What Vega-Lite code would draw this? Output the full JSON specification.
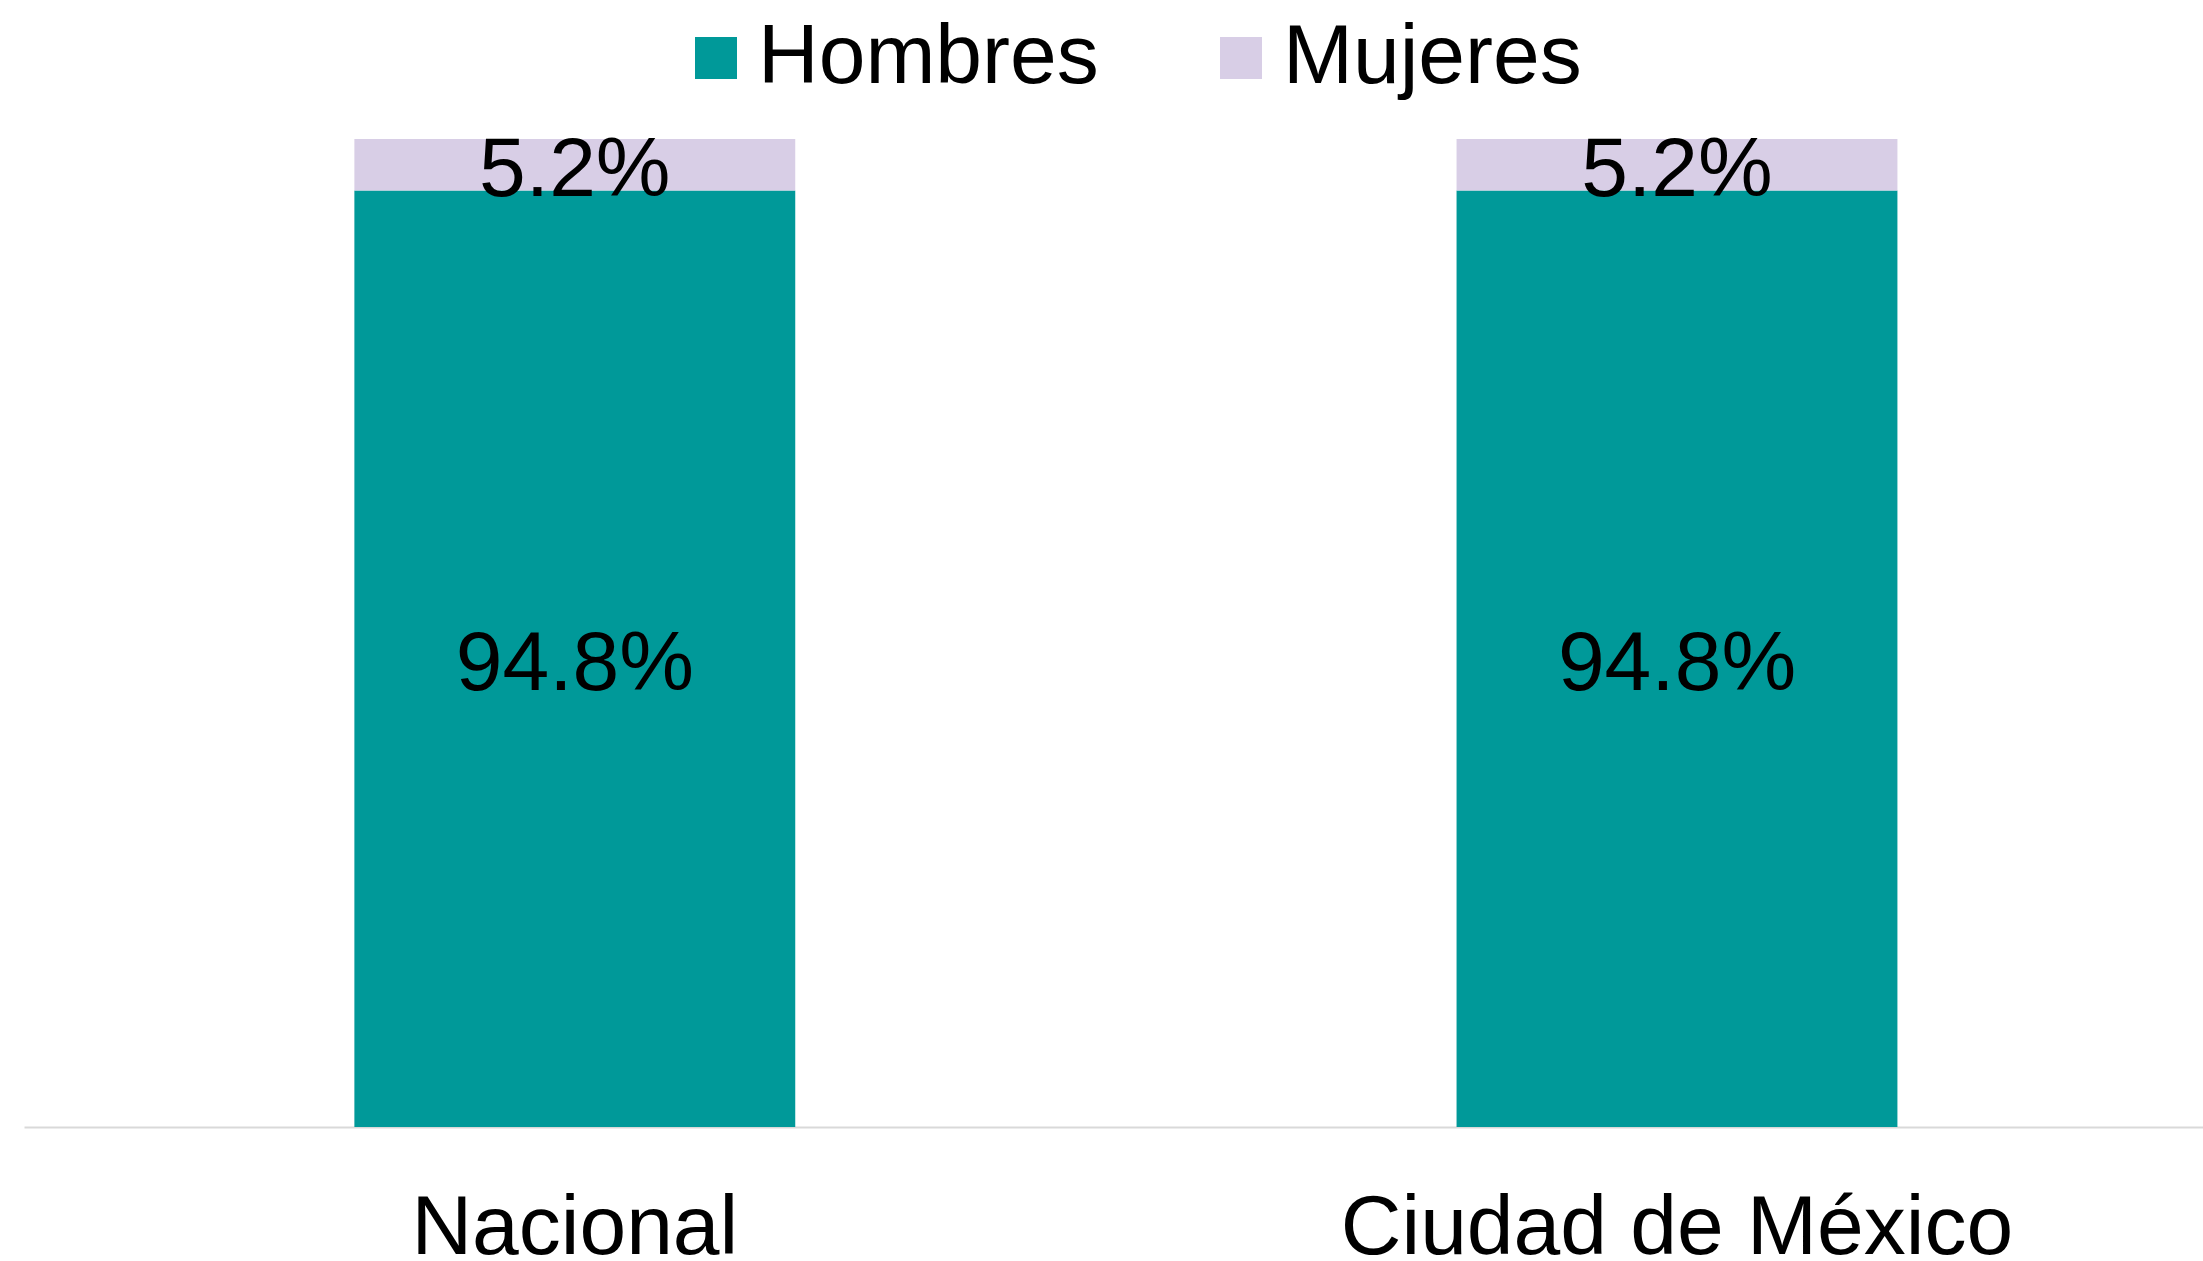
{
  "$schema": "https://vega.github.io/schema/vega-lite/v6.json",
  "width": 2179,
  "height": 988,
  "autosize": {"type": "none"},
  "padding": {"left": 24, "top": 139, "right": 0, "bottom": 134},
  "background": "white",
  "config": {
    "view": {"stroke": null},
    "font": "Liberation Sans"
  },
  "data": {
    "values": [
      {"region": "Nacional", "sexo": "Hombres", "valor": 0.948},
      {"region": "Nacional", "sexo": "Mujeres", "valor": 0.052},
      {"region": "Ciudad de México", "sexo": "Hombres", "valor": 0.948},
      {"region": "Ciudad de México", "sexo": "Mujeres", "valor": 0.052}
    ]
  },
  "transform": [
    {"stack": "valor", "groupby": ["region"], "as": ["v0", "v1"], "sort": [{"field": "sexo", "order": "ascending"}]},
    {"calculate": "(datum.v0 + datum.v1) / 2", "as": "vmid"}
  ],
  "encoding": {
    "x": {
      "field": "region",
      "type": "nominal",
      "sort": ["Nacional", "Ciudad de México"],
      "scale": {"paddingInner": 0.6, "paddingOuter": 0.2885, "align": 0.5195},
      "axis": {
        "title": null,
        "labelAngle": 0,
        "labelFontSize": 84,
        "labelFont": "Liberation Sans",
        "labelColor": "#000000",
        "labelLimit": 0,
        "ticks": false,
        "labelPadding": 60,
        "domainColor": "#d9d9d9",
        "domainWidth": 2
      }
    }
  },
  "layer": [
    {
      "mark": {"type": "bar"},
      "encoding": {
        "y": {"field": "v0", "type": "quantitative", "scale": {"domain": [0, 1], "nice": false, "zero": true}, "axis": null},
        "y2": {"field": "v1"},
        "color": {
          "field": "sexo",
          "type": "nominal",
          "scale": {"domain": ["Hombres", "Mujeres"], "range": ["#009999", "#D8CEE6"]},
          "legend": {
            "title": null,
            "orient": "none",
            "legendX": 650,
            "legendY": -123,
            "direction": "horizontal",
            "symbolType": "square",
            "symbolSize": 1764,
            "symbolStrokeWidth": 0,
            "labelFontSize": 84,
            "labelFont": "Liberation Sans",
            "labelColor": "#000000",
            "labelLimit": 0,
            "labelOffset": 0,
            "columnPadding": 100,
            "padding": 0
          }
        }
      }
    },
    {
      "mark": {"type": "text", "fontSize": 84, "font": "Liberation Sans", "color": "#000000", "align": "center", "baseline": "middle", "dy": 6},
      "encoding": {
        "y": {"field": "vmid", "type": "quantitative"},
        "text": {"field": "valor", "type": "quantitative", "format": ".1%"}
      }
    }
  ]
}
